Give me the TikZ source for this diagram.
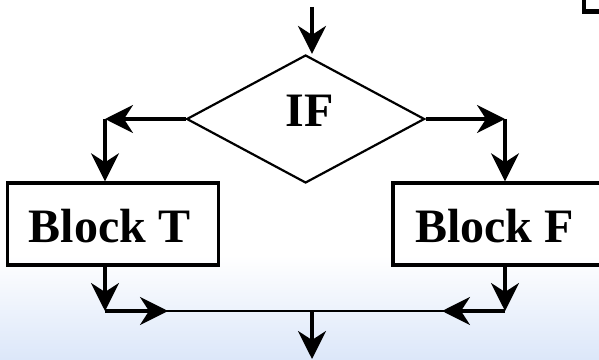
\documentclass[tikz,border=0pt]{standalone}
\usepackage{fontspec}
\setmainfont{Liberation Serif}
\usetikzlibrary{shapes.geometric,arrows.meta}
\definecolor{bgblue}{RGB}{220,231,249}
\begin{document}
\begin{tikzpicture}[x=1pt,y=1pt,
  arr/.style={line width=3.2pt,-{Stealth[length=28pt,width=28pt,inset=9pt]}},
  thinline/.style={line width=2.2pt},
  blockbox/.style={draw,line width=3.4pt,rectangle,inner sep=0pt},
  lbl/.style={font=\bfseries\fontsize{48}{48}\selectfont,inner sep=0pt},
  decision/.style={draw,line width=2.2pt,diamond,inner sep=0pt,minimum width=238pt,minimum height=128pt}]
\clip (0,0) rectangle (599,359);
\fill[white] (0,0) rectangle (599,359);
\shade[top color=white,bottom color=bgblue] (0,0) rectangle (599,104);
% partial box at top right
\draw[line width=4.5pt] (584,347.5) rectangle (640,380);
% nodes
\node[decision] (d) at (305.6,240) {};
\node[lbl] (iflabel) at (309.5,248) {IF};
\node[blockbox,minimum width=211pt,minimum height=82pt] (T) at (113,135) {};
\node[lbl] (tlabel) at (109.5,133) {Block T};
\node[blockbox,minimum width=230pt,minimum height=82pt] (F) at (508,135) {};
\node[lbl] (flabel) at (494.5,133) {Block F};
% coordinates
\coordinate (start) at (312,352);
\coordinate (lc) at (105,240);
\coordinate (rc) at (505,240);
\coordinate (lb) at (105,48);
\coordinate (rb) at (505,48);
\coordinate (lm) at (168,48);
\coordinate (rm) at (442,48);
\coordinate (mid) at (312,48);
\coordinate (out) at (312,0);
% connectors
\draw[arr] (start) -- (start |- d.north);
\draw[arr] (d.west) -- (lc);
\draw[arr] (lc) -- (lc |- T.north);
\draw[arr] (d.east) -- (rc);
\draw[arr] (rc) -- (rc |- F.north);
\draw[arr] (lc |- T.south) -- (lb);
\draw[arr] (rc |- F.south) -- (rb);
\draw[thinline] (lb) -- (rb);
\draw[arr] (lb) -- (lm);
\draw[arr] (rb) -- (rm);
\draw[arr] (mid) -- (out);
\end{tikzpicture}
\end{document}
